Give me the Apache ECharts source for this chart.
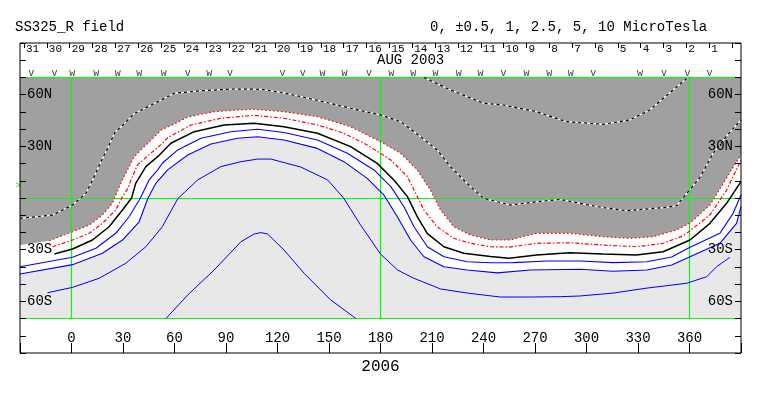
<!DOCTYPE html>
<html>
<head>
<meta charset="utf-8">
<script src="https://cdn.jsdelivr.net/npm/echarts@6/dist/echarts.min.js"></script>
<style>
  html, body { margin: 0; padding: 0; background: #fff; }
  #chart { width: 763px; height: 396px; }
</style>
</head>
<body>
<div id="chart"></div>
<script>
// contour lines, [carrington longitude, latitude]
const negOuter = [[-30,-27.3],[-13,-24.8],[0.6,-19.6],[10.3,-15.7],[18,-9.9],[23.8,-3.1],[28.9,9],[31.6,14.3],[36.5,24],[40.5,28],[48.3,35.6],[52.2,39.5],[59.9,43],[67.7,47],[83.1,50.1],[94.8,51],[106.4,51.5],[123.8,50.1],[143.3,47.2],[162.6,41.4],[180,32.7],[191.7,26],[201.4,16.3],[209.1,4.6],[215,-7],[222.7,-16.7],[232.4,-21.5],[244,-24.4],[255,-24.4],[270.9,-20.5],[290.3,-20.5],[309.7,-22.5],[325.2,-23.4],[338.8,-22.5],[352.3,-18.6],[360.1,-14.7],[371.9,-4.1],[379.7,8.5],[385.5,18.2],[390,25]];
const negInner = [[-11,-28.3],[0.6,-24.4],[10.3,-20.5],[18,-14.7],[25.8,-7],[29.7,0.8],[32.8,5.5],[34.5,10],[38.4,19.2],[44.4,24.5],[52.2,31],[56,35],[69.6,42.4],[87,46.3],[106.4,48],[123.8,46.3],[143.3,42.4],[158.7,37.6],[172.3,30.8],[186,22.1],[195.7,12.4],[201.4,0.8],[205.3,-7],[213,-16.7],[222.7,-23.4],[232.4,-26.3],[244,-28.3],[255,-28.5],[270.9,-26.3],[290.3,-26],[309.7,-27.3],[329.1,-28.3],[344.6,-26.3],[356.2,-22],[360.3,-19],[371.9,-9.9],[381.6,4.6],[390,22]];
const zeroLine = [[-10,-32.5],[0.6,-29.6],[12.2,-24.4],[21.9,-16.7],[29.7,-7],[35,0],[37.4,8.5],[43.3,18.2],[50.2,24],[57.9,31.8],[71.5,38.5],[88.9,42.4],[106.4,43.4],[123.8,41.4],[143.3,37.6],[162.6,29.8],[178.1,20.1],[187.8,10.5],[195.7,0.8],[201.4,-10.8],[207.2,-20.5],[216.9,-28.3],[228.5,-32.1],[244,-34],[255,-35],[270.9,-33.1],[290.3,-31.8],[309.7,-32.5],[329.1,-33.1],[344.6,-31.2],[360.3,-24.4],[371.9,-14.7],[381.6,-3.1],[390,9.5]];
const pos05 = [[-30,-39.9],[0.6,-34.4],[14.2,-29.2],[25.8,-20.5],[33.5,-10.9],[40,-0.3],[45.2,10.5],[50.2,16.3],[52.9,20.2],[61.9,27.9],[75.4,34.7],[92.8,38.5],[108.4,39.9],[123.8,38],[143.3,33.7],[160.7,26],[176.2,16.3],[186,6.6],[193.7,-5.1],[199.5,-16.7],[207.3,-28.3],[217,-34.1],[230.5,-37],[244,-37.6],[257.4,-37.5],[277,-36.6],[296.3,-36.6],[315.5,-37.5],[335.1,-37],[349.6,-34.3],[360.3,-28.6],[377.7,-20.5],[385.4,-8.9],[390,1.7]];
const pos1 = [[-30,-44.1],[0.6,-38.7],[18,-32.1],[29.7,-24.4],[39.4,-13.8],[44.4,-0.4],[49.1,8.5],[56,16.3],[67.7,25],[81.2,31.4],[96.7,34.7],[108.4,35.6],[123.8,33.7],[143.3,28.8],[158.7,21.1],[172.3,11.4],[182,1.7],[189.8,-10.9],[197.5,-24.4],[205.3,-34.1],[216.9,-39.9],[230.5,-41.8],[248,-43.5],[267.3,-41.8],[296.3,-41.4],[315.5,-42.5],[335.1,-41.8],[349.6,-38.9],[360.3,-34.1],[377.7,-26.3],[387.4,-14.7],[390,-5]];
const pos25 = [[-14,-55],[0.6,-51.9],[16.1,-46.6],[31.6,-37.9],[43.3,-28.3],[52.9,-16.7],[61.9,-0.4],[73.5,10.5],[87,18.2],[98.7,21.1],[108.4,22.6],[116.1,22.6],[133.5,18],[149.2,10.5],[158.5,0],[168.4,-15.7],[180,-32.5],[189.9,-41.8],[199.2,-46.5],[214.9,-52.8],[230.6,-55.2],[249.8,-57.5],[267.3,-57.5],[284.7,-57.3],[296.3,-56.9],[315.5,-55.2],[335.3,-52.3],[358.4,-49.5],[370,-45.7],[375.8,-39.9],[383.5,-34.5]];
const pos5 = [[55.1,-69.9],[67.7,-56.3],[83.1,-41.8],[98.7,-25.4],[106.4,-20.9],[110.3,-20.1],[114.2,-20.9],[123.8,-30.2],[135.5,-43.7],[151,-59.2],[165.6,-69.9]];
const neg25a = [[-30,-11.8],[-11,-9.9],[0.6,-4.1],[8.4,2.7],[12.8,11.5],[17.6,22],[20.9,28.5],[25.2,38],[28.9,41.4],[36.6,49],[40.5,51],[52.2,56.9],[59.9,60.8],[75.4,62.3],[94.8,63.3],[110.3,63.1],[123.8,61],[143.3,56.7],[162.6,52.1],[180,48.2],[191.7,44.3],[203.3,35.6],[213,27.9],[220.7,18.2],[230.4,8.5],[240.1,-0.2],[255.6,-4.1],[271,-2.2],[284.7,-0.8],[305.9,-5],[323.5,-7.4],[346.8,-5.4],[352.5,-4.5],[360.3,5],[366.1,12],[373.8,26],[381.6,36],[390,45.3]];
const neg25b = [[205.3,70],[220.8,62.7],[240.2,55],[251.6,54],[270.9,50.1],[288.3,44.3],[309.7,42.8],[325.2,45.3],[336.8,51.1],[350.4,62.7],[359.1,70]];

// observation markers along the top band
const markerLons = [-23.4,-9.9,0.4,14.4,27,39.5,53.7,67.7,80.2,92.4,122.9,134.7,146.2,159.1,173.3,186.2,199.1,212,225.6,238.2,251.7,265,278.3,290.8,303.9,331.2,345.2,358.8,371.6];
const markerKinds = ['v','v','w','w','w','w','w','v','w','v','v','v','w','w','v','w','w','w','w','w','v','w','w','w','v','w','v','v','v'];

const dayLabels = ['31','30','29','28','27','26','25','24','23','22','21','20','19','18','17','16','15','14','13','12','11','10','9','8','7','6','5','4','3','2','1'];
const lonTicks = [0,30,60,90,120,150,180,210,240,270,300,330,360];
const latTicks = [60,30,-30,-60];
const latTickText = ['60N','30N','30S','60S'];
const greenLats = [0,70,-70];
const greenLons = [0,180,360];
const b0Point = [[-31,7]];

const lonMin = -30, lonMax = 390, mapLat = 70, markerLat = 72.5;
const FONT = 'Liberation Mono';
const GREEN = '#00ff00';

const latFmt = (v) => {
  const i = latTicks.indexOf(v);
  return i >= 0 ? latTickText[i] : '';
};

const fill = (data, color, z) => ({
  type: 'line', data, symbol: 'none', silent: true, z,
  lineStyle: { width: 0, opacity: 0 },
  areaStyle: { color, opacity: 1, origin: -mapLat }
});
const contour = (data, color, type, width, z) => ({
  type: 'line', data, symbol: 'none', silent: true, z,
  lineStyle: { color, type, width }
});

const chart = echarts.init(document.getElementById('chart'));
chart.setOption({
  animation: false,
  title: [
    { text: 'SS325_R field', left: 15, top: 20, padding: 0,
      textStyle: { fontFamily: FONT, fontSize: 14, fontWeight: 'normal', color: '#000' } },
    { text: '0, \u00b10.5, 1, 2.5, 5, 10 MicroTesla', left: 430, top: 20, padding: 0,
      textStyle: { fontFamily: FONT, fontSize: 14, fontWeight: 'normal', color: '#000' } },
    { text: 'AUG 2003', left: 377, top: 53, padding: 0,
      textStyle: { fontFamily: FONT, fontSize: 14, fontWeight: 'normal', color: '#000' } }
  ],
  grid: [
    { left: 20, right: 22, top: 43, bottom: 43, show: true, borderColor: '#000', borderWidth: 1, z: 10 },
    { left: 24, right: 31, top: 43, height: 34 }
  ],
  xAxis: [
    { gridIndex: 0, type: 'value', min: lonMin, max: lonMax, interval: 30,
      axisLine: { show: false, onZero: false }, splitLine: { show: false },
      axisTick: { inside: true, length: 10, lineStyle: { color: '#000' } },
      axisLabel: { inside: true, margin: 8, fontFamily: FONT, fontSize: 14, color: '#000',
        formatter: (v) => lonTicks.indexOf(v) >= 0 ? String(v) : '' },
      name: '2006', nameLocation: 'middle', nameGap: 5,
      nameTextStyle: { fontFamily: FONT, fontSize: 16, color: '#000', verticalAlign: 'top' },
      z: 20 },
    { gridIndex: 1, type: 'value', min: 0, max: 31, interval: 1, position: 'top',
      axisLine: { show: false, onZero: false }, splitLine: { show: false },
      axisTick: { inside: true, length: 5, lineStyle: { color: '#000' } },
      axisLabel: { inside: true, margin: 1, align: 'left', padding: [0, 0, 0, 2],
        fontFamily: FONT, fontSize: 11, color: '#000',
        formatter: (v) => dayLabels[v] || '' } }
  ],
  yAxis: [
    { gridIndex: 0, type: 'value', min: -90, max: 90, interval: 10,
      axisLine: { show: false, onZero: false }, splitLine: { show: false },
      axisTick: { inside: true, length: 6, lineStyle: { color: '#000' } },
      axisLabel: { inside: true, margin: 7, fontFamily: FONT, fontSize: 14, color: '#000', formatter: latFmt },
      z: 20 },
    { gridIndex: 0, type: 'value', min: -90, max: 90, interval: 10, position: 'right',
      axisLine: { show: false, onZero: false }, splitLine: { show: false },
      axisTick: { inside: true, length: 6, lineStyle: { color: '#000' } },
      axisLabel: { inside: true, margin: 8, fontFamily: FONT, fontSize: 14, color: '#000', formatter: latFmt },
      z: 20 },
    { gridIndex: 1, type: 'value', min: 0, max: 1, show: false }
  ],
  series: [
    fill([[lonMin, mapLat], [lonMax, mapLat]], '#a0a0a0', 1),
    fill(negOuter, '#ffffff', 2),
    fill(pos1, '#e8e8e8', 3),
    contour(neg25a, '#ffffff', 'solid', 1.2, 4),
    contour(neg25a, '#000000', [3, 3], 1.2, 5),
    contour(neg25b, '#ffffff', 'solid', 1.2, 4),
    contour(neg25b, '#000000', [3, 3], 1.2, 5),
    contour(negOuter.filter((p) => p[0] >= -13), '#ff0000', [1.5, 2.5], 1.2, 5),
    contour(negInner, '#ff0000', [4, 2, 1.5, 2], 1.2, 5),
    contour(zeroLine, '#000000', 'solid', 1.5, 5),
    contour(pos05, '#0000ff', 'solid', 1.1, 5),
    contour(pos1, '#0000ff', 'solid', 1.1, 5),
    contour(pos25, '#0000ff', 'solid', 1, 5),
    contour(pos5, '#0000ff', 'solid', 1, 5),
    {
      type: 'line', data: [], symbol: 'none', silent: true, z: 6,
      markLine: {
        silent: true, symbol: 'none', label: { show: false },
        lineStyle: { color: GREEN, type: 'solid', width: 1.2 },
        data: greenLats.map((lat) => ({ yAxis: lat }))
          .concat(greenLons.map((lon) => [{ coord: [lon, -mapLat] }, { coord: [lon, mapLat] }]))
      }
    },
    {
      type: 'scatter', silent: true, z: 8, symbolSize: 1,
      itemStyle: { color: 'rgba(0,0,0,0)' },
      data: markerLons.map((lon, i) => [lon, markerLat, markerKinds[i]]),
      label: { show: true, position: 'inside', formatter: (p) => p.value[2],
        fontFamily: FONT, fontSize: 10, color: '#000' }
    },
    {
      type: 'scatter', silent: true, z: 8, symbolSize: 1, clip: false,
      itemStyle: { color: 'rgba(0,0,0,0)' },
      data: b0Point,
      label: { show: true, position: 'inside', formatter: '>', fontFamily: FONT, fontSize: 9, color: '#00c000' }
    }
  ]
});
</script>
</body>
</html>
